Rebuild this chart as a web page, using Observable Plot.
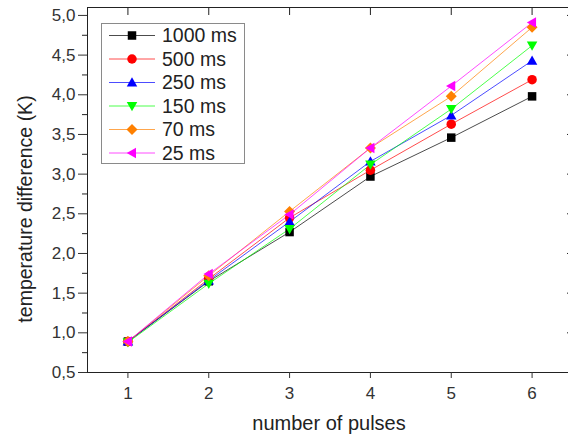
<!DOCTYPE html>
<html><head><meta charset="utf-8">
<script src="https://cdn.jsdelivr.net/npm/d3@7"></script>
<script src="https://cdn.jsdelivr.net/npm/@observablehq/plot@0.6"></script>
<style>
html,body{margin:0;padding:0;background:#fff;overflow:hidden;}
#wrap{position:relative;width:568px;height:434px;overflow:hidden;font-family:"Liberation Sans",Arial,sans-serif;color:#222;}
#wrap > svg{position:absolute;left:0;top:0;}
.ytitle{position:absolute;left:25px;top:209px;transform:translate(-50%,-50%) rotate(-90deg);font-size:19.5px;white-space:nowrap;}
.xtitle{position:absolute;left:329px;top:423px;transform:translate(-50%,-50%);font-size:20px;white-space:nowrap;}
</style></head><body><div id="wrap"></div>
<script>
// ---- data ----
const pulses = [1, 2, 3, 4, 5, 6];
const t1000 = [0.89, 1.65, 2.27, 2.97, 3.46, 3.98];
const t500  = [0.89, 1.68, 2.45, 3.05, 3.63, 4.19];
const t250  = [0.89, 1.66, 2.40, 3.16, 3.74, 4.43];
const t150  = [0.88, 1.62, 2.31, 3.12, 3.82, 4.62];
const t70   = [0.89, 1.72, 2.53, 3.33, 3.98, 4.85];
const t25   = [0.89, 1.74, 2.49, 3.33, 4.11, 4.91];
const seriesNames = ["1000 ms", "500 ms", "250 ms", "150 ms", "70 ms", "25 ms"];
const seriesValues = [t1000, t500, t250, t150, t70, t25];
const xTicks = [1, 2, 3, 4, 5, 6];
const yTicks = [0.5, 1.0, 1.5, 2.0, 2.5, 3.0, 3.5, 4.0, 4.5, 5.0];
const yMinorTicks = [0.75, 1.25, 1.75, 2.25, 2.75, 3.25, 3.75, 4.25, 4.75];
const xLabel = "number of pulses";
const yLabel = "temperature difference (K)";

// ---- styles ----
const colors = ["#000000", "#ff0000", "#0000ff", "#00ff00", "#ff8000", "#ff00ff"];
function shape(points) {
  return {draw(ctx, size) {
    const r = Math.sqrt(size / Math.PI);
    points.forEach(([px, py], i) => i ? ctx.lineTo(px * r, py * r) : ctx.moveTo(px * r, py * r));
    ctx.closePath();
  }};
}
const symSquare = shape([[-0.85, -0.85], [0.85, -0.85], [0.85, 0.85], [-0.85, 0.85]]);
const symCircle = {draw(ctx, size) { const r = Math.sqrt(size / Math.PI) * 0.95; ctx.moveTo(r, 0); ctx.arc(0, 0, r, 0, 2 * Math.PI); ctx.closePath(); }};
const symUp = shape([[0, -1.05], [1.05, 0.8], [-1.05, 0.8]]);
const symDown = shape([[0, 1.05], [1.05, -0.8], [-1.05, -0.8]]);
const symDiamond = shape([[0, -1.1], [1.1, 0], [0, 1.1], [-1.1, 0]]);
const symLeft = shape([[-1.05, 0], [0.8, -1.05], [0.8, 1.05]]);
const symbols = [symSquare, symCircle, symUp, symDown, symDiamond, symLeft];

const rows = seriesNames.flatMap((name, i) => pulses.map((p, j) => ({series: name, idx: i, x: p, y: seriesValues[i][j]})));
const fmt = d => d.toFixed(1).replace(".", ",");
const blank = () => "";

const lineMarks = seriesNames.map((s, i) => Plot.line(rows.filter(d => d.idx === i), {x: "x", y: "y", stroke: colors[i], strokeWidth: 1, strokeOpacity: 0.7}));
const dotMarks = seriesNames.map((s, i) => Plot.dot(rows.filter(d => d.idx === i), {x: "x", y: "y", fill: colors[i], stroke: "none", r: 5, symbol: symbols[i]}));

const chart = Plot.plot({
  width: 580, height: 434,
  marginLeft: 87, marginRight: 8, marginTop: 7, marginBottom: 62,
  style: {fontFamily: "'Liberation Sans', Arial, sans-serif", fontSize: "17px", maxWidth: "none", background: "#fff", overflow: "visible"},
  x: {domain: [0.5, 6.5]},
  y: {domain: [0.5, 5.1]},
  marks: [
    ...lineMarks,
    ...dotMarks,
    Plot.frame({stroke: "#222"}),
    Plot.axisX({anchor: "bottom", ticks: xTicks, tickSize: 6, tickPadding: 8, tickFormat: d => String(d), label: null, color: "#333"}),
    Plot.axisX({anchor: "top", ticks: xTicks, tickSize: -7, tickFormat: blank, label: null, color: "#222"}),
    Plot.axisY({anchor: "left", ticks: yTicks, tickSize: 9, tickPadding: 3, tickFormat: fmt, label: null, color: "#333"}),
    Plot.axisY({anchor: "left", ticks: yMinorTicks, tickSize: 5, tickFormat: blank, label: null, color: "#222"}),
    Plot.axisY({anchor: "right", ticks: yTicks, tickSize: -6, tickFormat: blank, label: null, color: "#222"}),
    Plot.axisY({anchor: "right", ticks: yMinorTicks, tickSize: -3, tickFormat: blank, label: null, color: "#222"})
  ]
});
const wrap = document.getElementById("wrap");
wrap.appendChild(chart);

const yt = document.createElement("div"); yt.className = "ytitle"; yt.textContent = yLabel; wrap.appendChild(yt);
const xt = document.createElement("div"); xt.className = "xtitle"; xt.textContent = xLabel; wrap.appendChild(xt);

// ---- legend ----
const lg = d3.select(wrap).append("svg")
  .attr("width", 145).attr("height", 142)
  .style("left", "101px").style("top", "23px")
  .attr("font-family", "'Liberation Sans', Arial, sans-serif");
lg.append("rect").attr("x", 0.5).attr("y", 0.5).attr("width", 143).attr("height", 140)
  .attr("fill", "#fff").attr("stroke", "#8a8a8a");
seriesNames.forEach((name, i) => {
  const g = lg.append("g").attr("transform", `translate(0,${12.5 + i * 23.5})`);
  g.append("line").attr("x1", 8).attr("x2", 54).attr("stroke", colors[i]).attr("stroke-width", 1).attr("stroke-opacity", 0.7);
  g.append("path").attr("transform", "translate(31,0)").attr("d", d3.symbol(symbols[i], Math.PI * 25)()).attr("fill", colors[i]);
  g.append("text").attr("x", 61).attr("dy", "0.35em").attr("font-size", 19.5).attr("fill", "#222").text(name);
});
</script>
</body></html>
